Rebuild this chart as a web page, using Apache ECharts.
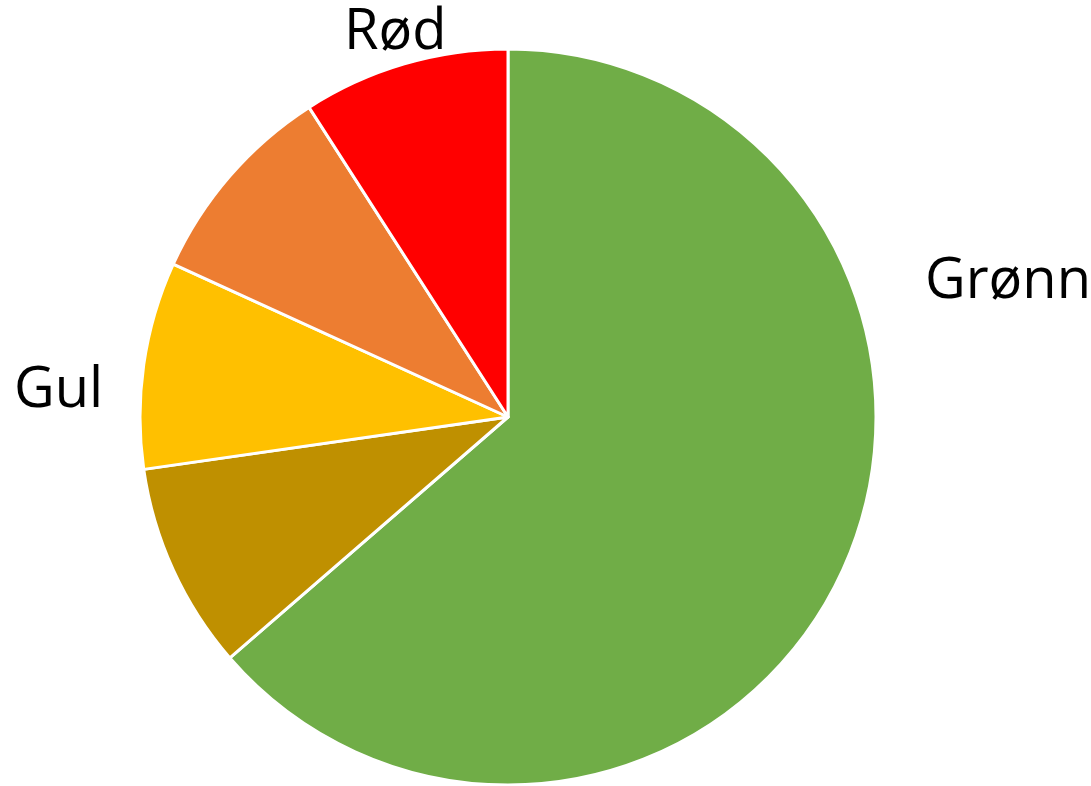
<!DOCTYPE html>
<html>
<head>
<meta charset="utf-8">
<script src="https://cdn.jsdelivr.net/npm/echarts@6/dist/echarts.min.js"></script>
<style>html,body{margin:0;padding:0;background:#fff;}#c{width:1091px;height:786px;}</style>
</head>
<body>
<div id="c"></div>
<script>
const categories = ['Grønn', '', 'Gul', '', 'Rød'];
const values = [7, 1, 1, 1, 1];
const colors = ['#70AD47', '#BF9000', '#FFC000', '#ED7D31', '#FF0000'];
const labelPos = [
  {x: 925, y: 282},
  null,
  {x: 14, y: 391},
  null,
  {x: 344, y: 33}
];

const chart = echarts.init(document.getElementById('c'), null, {renderer: 'canvas'});
chart.setOption({
  animation: false,
  series: [{
    type: 'pie',
    center: [508, 417],
    radius: 368,
    startAngle: 90,
    clockwise: true,
    avoidLabelOverlap: false,
    itemStyle: {borderColor: '#ffffff', borderWidth: 3},
    label: {
      show: true,
      position: 'outside',
      formatter: '{b}',
      fontFamily: 'Open Sans',
      fontSize: 56,
      color: '#000000'
    },
    labelLine: {show: false},
    labelLayout: function (p) {
      const pos = labelPos[p.dataIndex];
      if (!pos) return {};
      return {x: pos.x, y: pos.y, align: 'left', verticalAlign: 'middle'};
    },
    data: categories.map((n, i) => ({
      name: n,
      value: values[i],
      itemStyle: {color: colors[i]},
      label: {show: n !== ''}
    }))
  }]
});
</script>
</body>
</html>
